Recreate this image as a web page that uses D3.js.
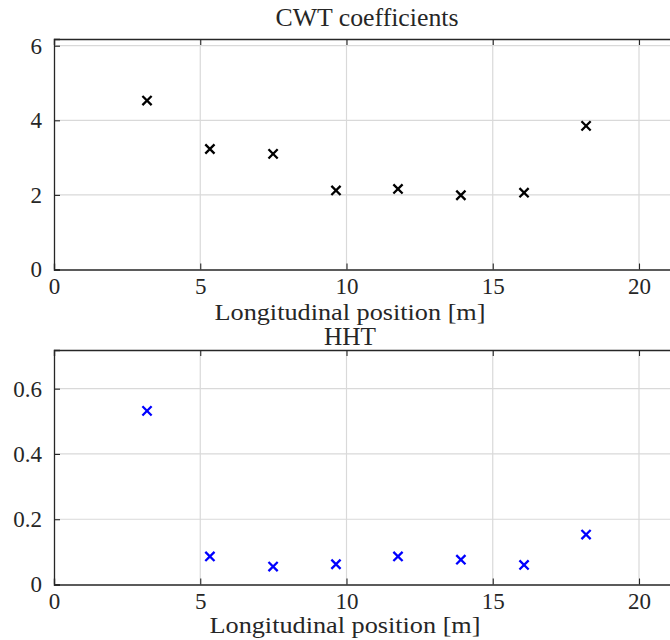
<!DOCTYPE html>
<html>
<head>
<meta charset="utf-8">
<script src="https://cdn.jsdelivr.net/npm/d3@7"></script>
<style>
  html, body { margin: 0; padding: 0; background: #fff; }
  svg { display: block; }
</style>
</head>
<body>
<svg id="chart" width="670" height="640"></svg>
<script>
// ---- data ----
const positions = [3.18, 5.33, 7.49, 9.64, 11.76, 13.91, 16.07, 18.19];
const cwtValues = [4.53, 3.23, 3.10, 2.12, 2.16, 1.99, 2.06, 3.85];
const hhtValues = [0.532, 0.086, 0.055, 0.062, 0.086, 0.076, 0.060, 0.153];
const xTicks = [0, 5, 10, 15, 20];
const cwtTicks = [0, 2, 4, 6];
const hhtTicks = [0, 0.2, 0.4, 0.6];
const xLabel = "Longitudinal position [m]";

const svg = d3.select("#chart");

function setFont(sel, fam, size) {
  sel.attr("font-family", fam).attr("font-size", size)
     .style("font-family", fam).style("font-size", size + "px");
}

function panel(cfg) {
  const x = d3.scaleLinear().domain([0, 21.5]).range([54, 54 + 21.5 * 29.25]);
  const y = d3.scaleLinear().domain(cfg.yDomain).range([cfg.bottom, cfg.top]);
  const g = svg.append("g");
  const x0 = x.range()[0], x1 = x.range()[1];

  // grid
  g.append("g").selectAll("line").data(xTicks.filter(d => d > 0)).join("line")
    .attr("x1", d => x(d)).attr("x2", d => x(d))
    .attr("y1", cfg.top).attr("y2", cfg.bottom)
    .attr("stroke", "#d9d9d9").attr("stroke-width", 1.2);
  g.append("g").selectAll("line").data(cfg.yTicks.filter(d => d > 0)).join("line")
    .attr("x1", x0).attr("x2", x1)
    .attr("y1", d => y(d)).attr("y2", d => y(d))
    .attr("stroke", "#d9d9d9").attr("stroke-width", 1.2);

  // axes (D3 axis generators, inward ticks)
  const bottomAxis = d3.axisBottom(x).tickValues(xTicks).tickSize(-6).tickPadding(9).tickFormat(d3.format("d"));
  const gb = g.append("g").attr("transform", `translate(0,${cfg.bottom})`).call(bottomAxis);
  const topAxis = d3.axisTop(x).tickValues(xTicks).tickSize(-6).tickFormat("");
  const gt = g.append("g").attr("transform", `translate(0,${cfg.top})`).call(topAxis);
  const leftAxis = d3.axisLeft(y).tickValues(cfg.yTicks).tickSize(-6).tickPadding(12).tickFormat(cfg.fmt);
  const gl = g.append("g").attr("transform", `translate(${x0},0)`).call(leftAxis);
  [gb, gt, gl].forEach(a => {
    a.select(".domain").attr("stroke", "#262626").attr("stroke-width", 1.3).attr("fill", "none");
    a.selectAll(".tick line").attr("stroke", "#262626").attr("stroke-width", 1.1);
    const tt = a.selectAll(".tick text").attr("fill", "#262626");
    setFont(tt, "Liberation Serif", 23);
  });
  gb.selectAll(".tick text").attr("dy", "0.68em");

  // markers
  const s = 4.6;
  g.append("g").selectAll("path").data(positions.map((p, i) => [p, cfg.values[i]])).join("path")
    .attr("d", d => {
      const cx = x(d[0]), cy = y(d[1]);
      return `M${cx - s},${cy - s}L${cx + s},${cy + s}M${cx - s},${cy + s}L${cx + s},${cy - s}`;
    })
    .attr("stroke", cfg.color).attr("stroke-width", 2.3).attr("fill", "none");

  // title and xlabel
  const t = g.append("text").attr("x", cfg.titleX).attr("y", cfg.titleY).attr("text-anchor", "middle")
    .attr("fill", "#262626")
    .attr("textLength", cfg.titleW).attr("lengthAdjust", "spacingAndGlyphs")
    .text(cfg.title);
  setFont(t, "Liberation Serif", 25);
  const xl = g.append("text").attr("x", cfg.xlabX).attr("y", cfg.xlabY).attr("text-anchor", "middle")
    .attr("fill", "#262626")
    .attr("textLength", 271).attr("lengthAdjust", "spacingAndGlyphs")
    .text(xLabel);
  setFont(xl, "Liberation Serif", 24);
}

panel({
  top: 39, bottom: 269.5, yDomain: [0, 6.18], yTicks: cwtTicks, fmt: d3.format("d"),
  values: cwtValues, color: "#000000",
  title: "CWT coefficients", titleX: 367, titleY: 26, titleW: 183,
  xlabX: 350, xlabY: 320
});
panel({
  top: 350, bottom: 584.5, yDomain: [0, 0.7185], yTicks: hhtTicks, fmt: d => d === 0 ? "0" : d3.format(".1f")(d),
  values: hhtValues, color: "#0000ff",
  title: "HHT", titleX: 350, titleY: 345, titleW: 52,
  xlabX: 345, xlabY: 633
});
</script>
</body>
</html>
